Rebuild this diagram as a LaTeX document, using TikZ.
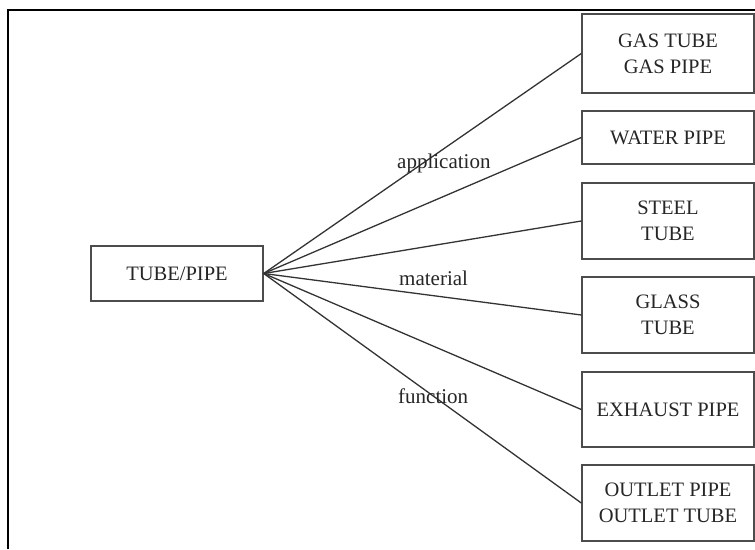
\documentclass[tikz,border=0pt]{standalone}
\usepackage{fontspec}
\setmainfont{Liberation Serif}
\begin{document}
\begin{tikzpicture}[x=1pt,y=-1pt,
  box/.style={draw=black!70, line width=1.4pt, minimum width=172pt, inner sep=0pt, align=center,
    font=\fontsize{20.5}{26}\selectfont, text=black!85},
  conn/.style={draw=black!80, line width=1.3pt},
  lbl/.style={font=\fontsize{21}{24}\selectfont, text=black!85, inner sep=0pt}]
\useasboundingbox (0,0) rectangle (755,549);
\draw[line width=2pt, black] (8,549) -- (8,10) -- (755,10);
\node[box, minimum height=55pt] (c) at (177,273.5) {TUBE/PIPE};
\node[box, minimum height=79pt] (b1) at (668,53.5) {GAS TUBE\\GAS PIPE};
\node[box, minimum height=53pt] (b2) at (668,137.5) {WATER PIPE};
\node[box, minimum height=76pt] (b3) at (668,221) {STEEL\\TUBE};
\node[box, minimum height=76pt] (b4) at (668,315) {GLASS\\TUBE};
\node[box, minimum height=75pt] (b5) at (668,409.5) {EXHAUST PIPE};
\node[box, minimum height=76pt] (b6) at (668,503) {OUTLET PIPE\\OUTLET TUBE};
\foreach \b in {b1,b2,b3,b4,b5,b6} \draw[conn] (c.east) -- (\b.west);
\node[lbl, anchor=base west] (l1) at (397,168) {application};
\node[lbl, anchor=base west] (l2) at (399,285) {material};
\node[lbl, anchor=base west] (l3) at (398,403) {function};
\end{tikzpicture}
\end{document}
